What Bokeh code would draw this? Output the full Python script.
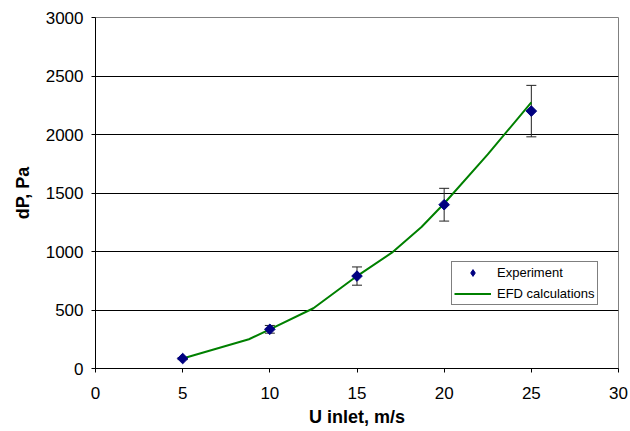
import numpy as np
from bokeh.plotting import figure
from bokeh.models import (ColumnDataSource, Whisker, TeeHead, FixedTicker,
                          Range1d, Legend, LegendItem)
from bokeh.embed import file_html
from bokeh.resources import INLINE

# ---- data ----
x_exp = [5, 10, 15, 20, 25]
y_exp = [85, 335, 790, 1400, 2200]
err_exp = [9, 33, 78, 140, 220]

x_efd = [5, 8.8, 10, 12.5, 15, 17, 18.7, 20, 22.5, 25]
y_efd = [85, 250, 335, 515, 790, 990, 1210, 1410, 1830, 2275]

x_ticks = [0, 5, 10, 15, 20, 25, 30]
y_ticks = [0, 500, 1000, 1500, 2000, 2500, 3000]

FONT = "Liberation Sans"

p = figure(width=630, height=431, output_backend="svg", toolbar_location=None,
           x_range=Range1d(0, 30), y_range=Range1d(0, 3000),
           min_border_left=95, min_border_right=12, min_border_top=17,
           min_border_bottom=63)

p.background_fill_color = "white"
p.border_fill_color = "white"
p.outline_line_color = "#808080"
p.outline_line_width = 1

# axes
for ax in (p.xaxis[0], p.yaxis[0]):
    ax.axis_line_color = "black"
    ax.major_tick_line_color = "black"
    ax.major_tick_in = 0
    ax.major_tick_out = 4
    ax.minor_tick_line_color = None
    ax.major_label_text_font = FONT
    ax.major_label_text_font_size = "17px"
    ax.major_label_text_color = "black"
    ax.axis_label_text_font = FONT
    ax.axis_label_text_font_size = "18px"
    ax.axis_label_text_font_style = "bold"
    ax.axis_label_text_color = "black"

p.xaxis.ticker = FixedTicker(ticks=x_ticks)
p.yaxis.ticker = FixedTicker(ticks=y_ticks)
p.xaxis.axis_label = "U inlet, m/s"
p.yaxis.axis_label = "dP, Pa"
p.xaxis.major_label_standoff = 14
p.yaxis.major_label_standoff = 8
p.xaxis.axis_label_standoff = 5
p.yaxis.axis_label_standoff = 10

p.xgrid.grid_line_color = None
p.ygrid.ticker = FixedTicker(ticks=y_ticks[1:-1])
p.ygrid.grid_line_color = "black"
p.ygrid.grid_line_width = 1

# error bars
src = ColumnDataSource(dict(
    x=x_exp, y=y_exp,
    lower=[v - e for v, e in zip(y_exp, err_exp)],
    upper=[v + e for v, e in zip(y_exp, err_exp)],
))
whisk = Whisker(base="x", lower="lower", upper="upper", source=src,
                line_color="#222222", line_width=1,
                upper_head=TeeHead(size=10, line_color="#222222", line_width=1),
                lower_head=TeeHead(size=10, line_color="#222222", line_width=1))
p.add_layout(whisk)

# EFD line
line_r = p.line(x_efd, y_efd, line_color="#008000", line_width=2)

# diamond renderer used for the legend (hidden beneath the wider diamonds)
leg_pts = p.scatter("x", "y", source=src, marker="diamond", size=9,
                    fill_color="#000080", line_color="#000080")

# experiment markers (square diamonds)
p.scatter("x", "y", source=src, marker="square", angle=np.pi / 4,
          size=7.5, fill_color="#000080", line_color="#000080")

legend = Legend(items=[LegendItem(label="Experiment", renderers=[leg_pts]),
                       LegendItem(label="EFD calculations", renderers=[line_r])],
                location=(356, 63))
legend.label_text_font = FONT
legend.label_text_font_size = "13px"
legend.label_text_color = "black"
legend.border_line_color = "black"
legend.border_line_width = 1
legend.background_fill_color = "white"
legend.background_fill_alpha = 1
legend.padding = 2
legend.spacing = 4
legend.margin = 0
legend.glyph_width = 37
legend.glyph_height = 17
legend.label_height = 17
legend.label_standoff = 6
p.add_layout(legend, "center")

open("out.html", "w").write(file_html(p, INLINE))
